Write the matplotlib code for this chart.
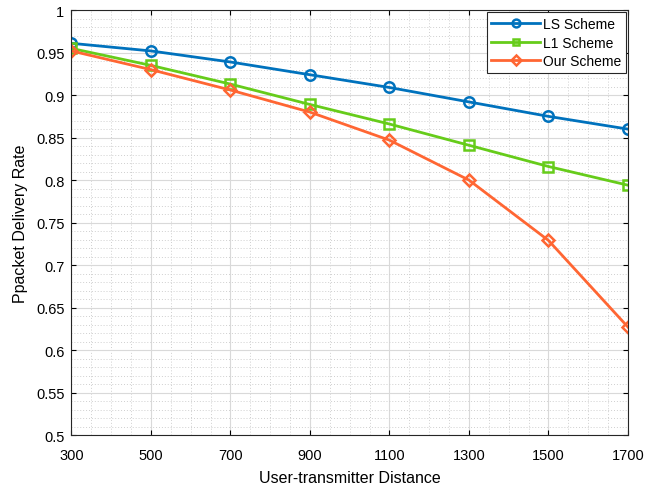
import numpy as np
import matplotlib
matplotlib.use('Agg')
import matplotlib.pyplot as plt
from matplotlib.ticker import MultipleLocator

plt.rcParams['font.family'] = ['Liberation Sans', 'DejaVu Sans']

# Data
distance = [300, 500, 700, 900, 1100, 1300, 1500, 1700]
ls_scheme = [0.961, 0.952, 0.939, 0.924, 0.909, 0.892, 0.875, 0.860]
l1_scheme = [0.955, 0.935, 0.913, 0.889, 0.866, 0.841, 0.816, 0.794]
our_scheme = [0.952, 0.930, 0.906, 0.880, 0.847, 0.800, 0.729, 0.627]

fig = plt.figure(figsize=(6.67, 4.85), dpi=100)
ax = fig.add_axes([0.107, 0.101, 0.8345, 0.876])

ax.plot(distance, ls_scheme, color='#0072BD', linewidth=2, marker='o',
        markersize=7.5, markerfacecolor='none', markeredgewidth=1.8, label='LS Scheme')
ax.plot(distance, l1_scheme, color='#66CC1A', linewidth=2, marker='s',
        markersize=6.5, markerfacecolor='none', markeredgewidth=1.8, label='L1 Scheme')
ax.plot(distance, our_scheme, color='#FF6633', linewidth=2, marker='D',
        markersize=6.5, markerfacecolor='none', markeredgewidth=1.8, label='Our Scheme')

ax.set_xlim(300, 1700)
ax.set_ylim(0.5, 1)
ax.set_xticks(distance)
ax.set_yticks(np.arange(0.5, 1.001, 0.05))
ax.set_yticklabels(['0.5', '0.55', '0.6', '0.65', '0.7', '0.75', '0.8',
                    '0.85', '0.9', '0.95', '1'])
ax.xaxis.set_minor_locator(MultipleLocator(50))
ax.yaxis.set_minor_locator(MultipleLocator(0.01))

ax.grid(which='major', color='#d9d9d9', linewidth=0.8)
ax.grid(which='minor', color='#cfcfcf', linestyle=(0, (1, 2)), linewidth=0.7)
ax.set_axisbelow(True)
ax.tick_params(which='both', direction='in', top=True, right=True, labelsize=10.5)
ax.tick_params(axis='x', pad=9)
ax.tick_params(axis='y', pad=5)
ax.tick_params(which='minor', length=0)
for s in ax.spines.values():
    s.set_color('#262626')
    s.set_linewidth(0.8)

ax.set_xlabel('User-transmitter Distance', fontsize=11.5, labelpad=6)
ax.set_ylabel('Ppacket Delivery Rate', fontsize=11.5, labelpad=6)

leg = ax.legend(loc='upper right', fontsize=10, fancybox=False, framealpha=1,
                edgecolor='#262626', borderaxespad=0.15, handlelength=3.5,
                labelspacing=0.33, borderpad=0.35, handletextpad=0.2,
                markerscale=0.75)
leg.get_frame().set_linewidth(0.8)

fig.savefig('out.png', dpi=100)
